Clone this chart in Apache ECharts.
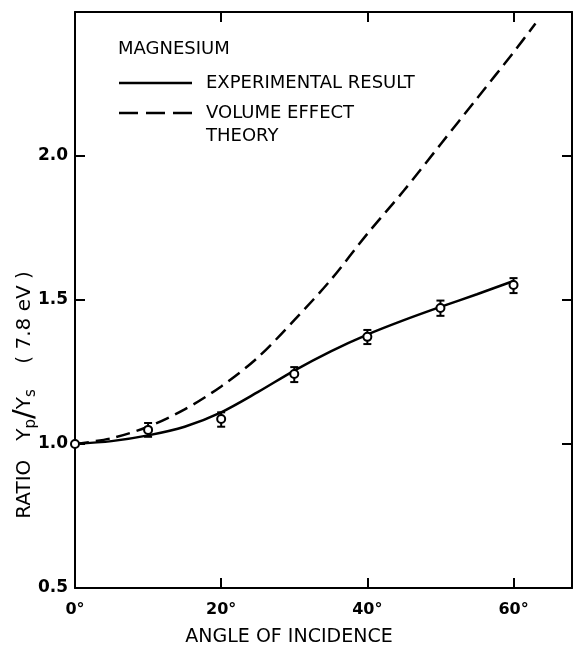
<!DOCTYPE html>
<html>
<head>
<meta charset="utf-8">
<script src="https://cdn.jsdelivr.net/npm/echarts@6/dist/echarts.min.js"></script>
<style>
  html, body { margin: 0; padding: 0; background: #fff; }
  #chart { width: 574px; height: 647px; }
</style>
</head>
<body>
<div id="chart"></div>
<script>
// measured points (circles) and error bars
const angles = [0, 10, 20, 30, 40, 50, 60]
const measured = [1.0, 1.049, 1.087, 1.243, 1.372, 1.472, 1.552]
const errAngles = [10, 20, 30, 40, 50, 60]
const errLow = [1.025, 1.06, 1.215, 1.347, 1.445, 1.524]
const errHigh = [1.073, 1.11, 1.267, 1.396, 1.498, 1.576]

// solid curve: experimental result
const expAngles = [0, 5, 10, 15, 20, 25, 30, 35, 40, 45, 50, 55, 60]
const expCurve = [1.0, 1.01, 1.03, 1.06, 1.11, 1.18, 1.255, 1.322, 1.38, 1.43, 1.476, 1.52, 1.566]

// dashed curve: volume effect theory
const theoryAngles = [0, 5, 10, 15, 20, 25, 30, 35, 40, 45, 50, 55, 60, 63]
const theoryCurve = [1.0, 1.02, 1.06, 1.12, 1.2, 1.3, 1.43, 1.57, 1.73, 1.88, 2.04, 2.2, 2.36, 2.46]

// tick marks and tick labels
const xLabels = [0, 20, 40, 60]
const xTickMarks = [20, 40, 60]
const yLabels = [0.5, 1.0, 1.5, 2.0]
const yTickMarks = [1.0, 1.5, 2.0]

const ink = '#000'
const textFont = 'DejaVu Sans, Liberation Sans, sans-serif'

const pairs = (xs, ys) => xs.map((x, i) => [x, ys[i]])

const chart = echarts.init(document.getElementById('chart'))

// top and right frame: same ticks, no labels
const frameAxis = (ticks) => ({
  axisLine: { show: true, onZero: false, lineStyle: { color: ink, width: 2 } },
  axisTick: { show: true, inside: true, length: 10, customValues: ticks, lineStyle: { color: ink, width: 2 } },
  axisLabel: { show: false },
  splitLine: { show: false }
})

chart.setOption({
  animation: false,
  backgroundColor: '#fff',
  grid: { left: 75, right: 2, top: 12, bottom: 59, outerBoundsMode: 'none' },
  xAxis: [
    {
      type: 'value', min: 0, max: 68, position: 'bottom',
      axisLine: { show: true, onZero: false, lineStyle: { color: ink, width: 2 } },
      axisTick: { show: true, inside: true, length: 10, customValues: xTickMarks, lineStyle: { color: ink, width: 2 } },
      axisLabel: {
        margin: 14, color: ink, fontFamily: textFont, fontWeight: 'bold', fontSize: 16,
        customValues: xLabels,
        formatter: v => v + '°'
      },
      splitLine: { show: false }
    },
    Object.assign({ type: 'value', min: 0, max: 68, position: 'top' }, frameAxis(xTickMarks))
  ],
  yAxis: [
    {
      type: 'value', min: 0.5, max: 2.5, position: 'left',
      axisLine: { show: true, onZero: false, lineStyle: { color: ink, width: 2 } },
      axisTick: { show: true, inside: true, length: 10, customValues: yTickMarks, lineStyle: { color: ink, width: 2 } },
      axisLabel: {
        margin: 7, color: ink, fontFamily: textFont, fontWeight: 'bold', fontSize: 17,
        customValues: yLabels,
        formatter: v => v.toFixed(1)
      },
      splitLine: { show: false }
    },
    Object.assign({ type: 'value', min: 0.5, max: 2.5, position: 'right' }, frameAxis(yTickMarks))
  ],
  graphic: [
    {
      type: 'text', x: 118, y: 49,
      style: { text: 'MAGNESIUM', font: '18px ' + textFont, fill: ink, align: 'left', verticalAlign: 'middle' }
    },
    {
      type: 'line', shape: { x1: 119, y1: 83, x2: 192, y2: 83 },
      style: { stroke: ink, lineWidth: 2.5 }
    },
    {
      type: 'text', x: 206, y: 83,
      style: { text: 'EXPERIMENTAL RESULT', font: '18px ' + textFont, fill: ink, align: 'left', verticalAlign: 'middle' }
    },
    {
      type: 'line', shape: { x1: 119, y1: 113, x2: 192, y2: 113 },
      style: { stroke: ink, lineWidth: 2.5, lineDash: [19, 8] }
    },
    {
      type: 'text', x: 206, y: 113,
      style: { text: 'VOLUME EFFECT', font: '18px ' + textFont, fill: ink, align: 'left', verticalAlign: 'middle' }
    },
    {
      type: 'text', x: 206, y: 136,
      style: { text: 'THEORY', font: '18px ' + textFont, fill: ink, align: 'left', verticalAlign: 'middle' }
    },
    {
      type: 'text', x: 289, y: 637,
      style: { text: 'ANGLE OF INCIDENCE', font: '19px ' + textFont, fill: ink, align: 'center', verticalAlign: 'middle' }
    },
    {
      type: 'text', x: 25, y: 395, rotation: Math.PI / 2,
      style: {
        text: 'RATIO   Y{sub|p}{sl|/}Y{sub|s}    ( 7.8 eV )',
        font: '20px ' + textFont, fill: ink, align: 'center', verticalAlign: 'middle',
        rich: {
          sub: { fontSize: 15, fontFamily: textFont, fill: ink, padding: [12, 0, 0, 0], verticalAlign: 'middle' },
          sl: { fontSize: 29, fontFamily: textFont, fill: ink, verticalAlign: 'middle' }
        }
      }
    }
  ],
  series: [
    {
      name: 'EXPERIMENTAL RESULT', type: 'line', smooth: 0.3, showSymbol: false,
      data: pairs(expAngles, expCurve),
      lineStyle: { color: ink, width: 2.5 }, z: 2
    },
    {
      name: 'VOLUME EFFECT THEORY', type: 'line', smooth: 0.3, showSymbol: false,
      data: pairs(theoryAngles, theoryCurve),
      lineStyle: { color: ink, width: 2.5, type: [14, 7] }, z: 2
    },
    {
      name: 'error', type: 'custom', z: 3,
      encode: { x: 0, y: [1, 2] },
      data: errAngles.map((a, i) => [a, errLow[i], errHigh[i]]),
      renderItem: (params, api) => {
        const top = api.coord([api.value(0), api.value(2)])
        const bot = api.coord([api.value(0), api.value(1)])
        const w = 4
        const st = { stroke: ink, lineWidth: 2 }
        return {
          type: 'group',
          children: [
            { type: 'line', shape: { x1: top[0], y1: top[1], x2: bot[0], y2: bot[1] }, style: st },
            { type: 'line', shape: { x1: top[0] - w, y1: top[1], x2: top[0] + w, y2: top[1] }, style: st },
            { type: 'line', shape: { x1: bot[0] - w, y1: bot[1], x2: bot[0] + w, y2: bot[1] }, style: st }
          ]
        }
      }
    },
    {
      name: 'measured', type: 'scatter', symbol: 'circle', symbolSize: 8, z: 4,
      data: pairs(angles, measured),
      itemStyle: { color: '#fff', borderColor: ink, borderWidth: 2, opacity: 1 }
    }
  ]
})
</script>
</body>
</html>
